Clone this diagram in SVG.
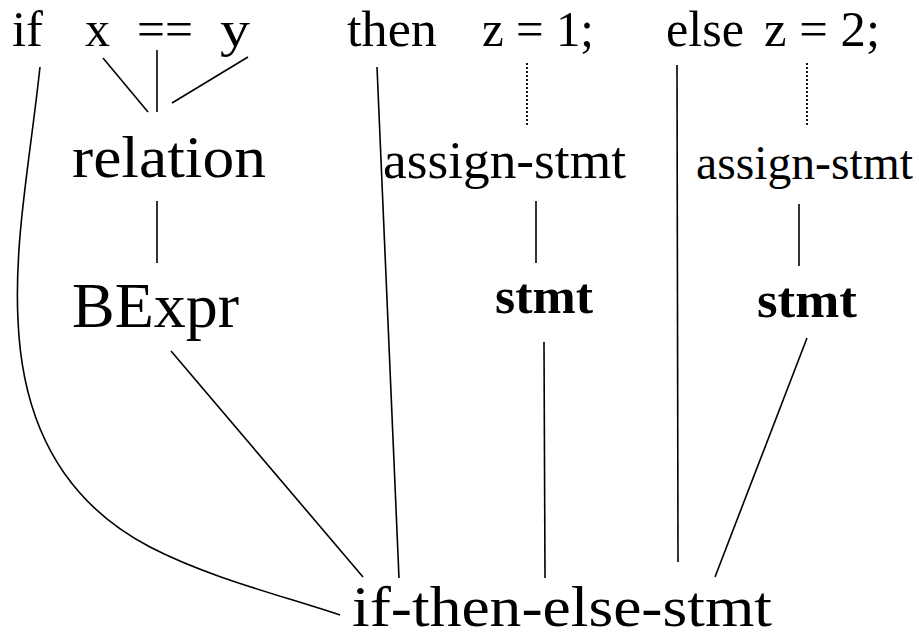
<svg xmlns="http://www.w3.org/2000/svg" width="919" height="639" viewBox="0 0 919 639">
<style>
text { font-family: "Liberation Serif", "Times New Roman", serif; fill: #000; }
.tok { font-size: 50px; }
.mid { font-size: 52px; }
.mid2 { font-size: 48px; }
.big { font-size: 60px; }
.root { font-size: 58px; }
.bx { font-size: 63px; }
.bold { font-size: 50px; font-weight: bold; }
.edge { stroke: #000; stroke-width: 1.6; fill: none; }
.dot { stroke: #000; stroke-width: 1.8; fill: none; stroke-dasharray: 2 2; }
</style>
<rect width="919" height="639" fill="#fff"/>
<g id="connectors">
<line class="edge" x1="103" y1="58" x2="148" y2="112"/>
<line class="edge" x1="157" y1="50" x2="157" y2="112"/>
<line class="edge" x1="248" y1="57" x2="172" y2="103"/>
<line class="edge" x1="157" y1="201" x2="157" y2="263"/>
<line class="edge" x1="171" y1="351" x2="363" y2="577"/>
<path class="edge" d="M40,67 C30,160 14,240 18,320 C22,420 60,500 150,547 C210,578 280,595 340,615"/>
<line class="edge" x1="377" y1="67" x2="399" y2="578"/>
<line class="dot" x1="527" y1="63" x2="527" y2="125"/>
<line class="edge" x1="536" y1="201" x2="536" y2="263"/>
<line class="edge" x1="544" y1="342" x2="545" y2="578"/>
<line class="edge" x1="677" y1="65" x2="678" y2="562"/>
<line class="dot" x1="807" y1="63" x2="807" y2="125"/>
<line class="edge" x1="799" y1="204" x2="799" y2="266"/>
<line class="edge" x1="807" y1="338" x2="715" y2="577"/>
</g>
<g id="tok-if"><text class="tok" x="12" y="46" textLength="31" lengthAdjust="spacingAndGlyphs">if</text></g>
<g id="tok-x"><text class="tok" x="85" y="46" textLength="25" lengthAdjust="spacingAndGlyphs">x</text></g>
<g id="tok-eq"><text class="tok" x="137" y="46" textLength="56" lengthAdjust="spacingAndGlyphs">==</text></g>
<g id="tok-y"><text class="tok" x="220" y="46" textLength="30" lengthAdjust="spacingAndGlyphs">y</text></g>
<g id="tok-then"><text class="tok" x="347" y="46" textLength="90" lengthAdjust="spacingAndGlyphs">then</text></g>
<g id="tok-z1"><text class="tok" x="482" y="46" textLength="112" lengthAdjust="spacingAndGlyphs">z = 1;</text></g>
<g id="tok-else"><text class="tok" x="666" y="46" textLength="78" lengthAdjust="spacingAndGlyphs">else</text></g>
<g id="tok-z2"><text class="tok" x="764" y="46" textLength="116" lengthAdjust="spacingAndGlyphs">z = 2;</text></g>
<g id="relation"><text class="big" x="72" y="177" textLength="194" lengthAdjust="spacingAndGlyphs">relation</text></g>
<g id="assign1"><text class="mid" x="383" y="178" textLength="243" lengthAdjust="spacingAndGlyphs">assign-stmt</text></g>
<g id="assign2"><text class="mid2" x="696" y="179" textLength="217" lengthAdjust="spacingAndGlyphs">assign-stmt</text></g>
<g id="bexpr"><text class="bx" x="72" y="327" textLength="167" lengthAdjust="spacingAndGlyphs">BExpr</text></g>
<g id="stmt1"><text class="bold" x="495" y="313" textLength="98" lengthAdjust="spacingAndGlyphs">stmt</text></g>
<g id="stmt2"><text class="bold" x="757" y="317" textLength="100" lengthAdjust="spacingAndGlyphs">stmt</text></g>
<g id="ifthenelse"><text class="root" x="352" y="626" textLength="420" lengthAdjust="spacingAndGlyphs">if-then-else-stmt</text></g>
</svg>
